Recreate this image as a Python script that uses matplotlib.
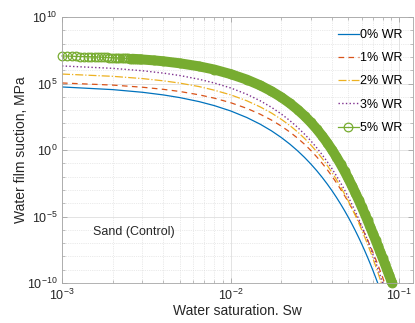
import numpy as np
import matplotlib
matplotlib.use('Agg')
import matplotlib.pyplot as plt
from matplotlib.ticker import LogLocator, FixedLocator, NullFormatter

plt.rcParams['font.family'] = ['Liberation Sans', 'DejaVu Sans']
plt.rcParams['mathtext.fontset'] = 'custom'
plt.rcParams['mathtext.rm'] = 'Liberation Sans'
plt.rcParams['mathtext.it'] = 'Liberation Sans:italic'

# water saturation grid (x 1e-3), shared by all curves
sw = [1, 2, 3, 4, 5, 6.5, 8, 10, 12.5, 15, 17.5, 20, 22.5, 25, 27.5, 30, 32.5, 35, 37.5, 40,
      42.5, 45, 47.5, 50, 52.5, 55, 57.5, 60, 62.5, 65, 67.5, 70, 72.5, 75, 77.5, 80, 82.5]

# log10 of water film suction (MPa) for each WR content
lp_0 = [4.74, 4.54, 4.34, 4.14, 3.94, 3.64, 3.34, 2.94, 2.44, 1.94, 1.44, 0.94, 0.44, -0.06,
        -0.56, -1.06, -1.56, -2.06, -2.56, -3.06, -3.56, -4.06, -4.56, -5.06, -5.56, -6.06,
        -6.56, -7.06, -7.56, -8.06, -8.56, -9.06, -9.56, -10.06]
lp_1 = [5.04, 4.88, 4.72, 4.56, 4.40, 4.15, 3.90, 3.56, 3.13, 2.69, 2.25, 1.80, 1.35, 0.89,
        0.43, -0.04, -0.52, -1.00, -1.48, -1.97, -2.46, -2.95, -3.43, -3.90, -4.38, -4.85,
        -5.33, -5.80, -6.28, -6.75, -7.23, -7.70, -8.18, -8.65, -9.13, -9.60, -10.08]
lp_2 = [5.71, 5.54, 5.37, 5.20, 5.03, 4.77, 4.50, 4.15, 3.70, 3.24, 2.78, 2.31, 1.84, 1.36,
        0.87, 0.37, -0.13, -0.64, -1.16, -1.69, -2.22, -2.76, -3.30, -3.84, -4.38, -4.92,
        -5.46, -6.00, -6.54, -7.08, -7.62, -8.16, -8.70, -9.24, -9.78, -10.32]
lp_3 = [6.32, 6.14, 5.96, 5.78, 5.60, 5.32, 5.04, 4.67, 4.19, 3.70, 3.21, 2.71, 2.21, 1.70,
        1.19, 0.68, 0.16, -0.36, -0.88, -1.41, -1.94, -2.47, -3.00, -3.54, -4.08, -4.62,
        -5.16, -5.70, -6.24, -6.78, -7.32, -7.86, -8.40, -8.94, -9.48, -10.02, -10.56]

# 5% WR has its own, finer sampling at low saturation (x 1e-3)
sw_5 = [1.00, 1.07, 1.14, 1.21, 1.28, 1.35, 1.42, 1.49, 1.56, 1.63, 1.70, 1.77, 1.84, 1.91,
        1.98, 2.05, 2.12, 2.19, 2.26, 2.33, 2.40, 2.47, 2.54, 2.61, 2.68, 2.75, 2.82, 2.89,
        2.96, 3.5, 4, 5, 6.5, 8, 10, 12.5, 15, 17.5, 20, 22.5, 25, 27.5, 30, 32.5, 35, 37.5,
        40, 42.5, 45, 47.5, 50, 52.5, 55, 57.5, 60, 62.5, 65, 67.5, 70, 72.5, 75, 77.5, 80,
        82.5, 85, 87.5, 90, 91]
lp_5 = [7.07, 7.06, 7.05, 7.04, 7.03, 7.02, 7.02, 7.01, 7.00, 6.99, 6.98, 6.97, 6.96, 6.95,
        6.94, 6.93, 6.92, 6.92, 6.91, 6.90, 6.89, 6.88, 6.87, 6.86, 6.85, 6.84, 6.83, 6.82,
        6.81, 6.74, 6.67, 6.52, 6.29, 6.05, 5.71, 5.29, 4.86, 4.42, 3.97, 3.51, 3.04, 2.56,
        2.07, 1.57, 1.06, 0.54, 0.01, -0.52, -1.06, -1.60, -2.14, -2.68, -3.21, -3.74, -4.26,
        -4.78, -5.29, -5.79, -6.28, -6.76, -7.23, -7.69, -8.14, -8.58, -9.01, -9.43, -9.84,
        -10.0]

labels = ['0% WR', '1% WR', '2% WR', '3% WR', '5% WR']


def xy(sat, logp):
    s = np.array(sat[:len(logp)]) * 1e-3
    return s, 10.0 ** np.array(logp)


fig = plt.figure(figsize=(4.15, 3.23), dpi=100)
ax = fig.add_axes([62/415, 1 - 283/323, 351/415, 266/323])

ax.plot(*xy(sw, lp_0), '-', color='#0072BD', lw=0.9, label=labels[0])
ax.plot(*xy(sw, lp_1), color='#D95319', lw=0.9, ls=(0, (4.5, 3.5)), label=labels[1])
ax.plot(*xy(sw, lp_2), color='#EDB120', lw=0.9, ls='-.', label=labels[2])
ax.plot(*xy(sw, lp_3), color='#7E2F8E', lw=1.0, ls=':', label=labels[3])

# 5% WR: circles overlap into a solid band once the points get dense
s5, p5 = xy(sw_5, lp_5)
band = s5 >= 2.6e-3
ax.plot(s5[band], p5[band], '-', color='#77AC30', lw=7.2, solid_capstyle='round', clip_on=False)
ax.plot(s5, p5, '-o', color='#77AC30', lw=0.9, ms=6.2, mfc='none', mew=0.9,
        clip_on=False, label=labels[4])

ax.set_xscale('log')
ax.set_yscale('log')
ax.set_xlim(1e-3, 0.121)
ax.set_ylim(1e-10, 1e10)

ax.yaxis.set_major_locator(FixedLocator([1e-10, 1e-5, 1e0, 1e5, 1e10]))
ax.yaxis.set_minor_locator(FixedLocator([10.0 ** k for k in range(-10, 11)]))
ax.yaxis.set_minor_formatter(NullFormatter())
ax.xaxis.set_minor_locator(LogLocator(base=10, subs=np.arange(2, 10), numticks=20))
ax.xaxis.set_minor_formatter(NullFormatter())

ax.grid(True, which='major', color='#dedede', lw=0.6)
ax.grid(True, which='minor', color='#d6d6d6', lw=0.5, ls=':')
ax.set_axisbelow(True)

for s in ax.spines.values():
    s.set_color('#a6a6a6')
    s.set_linewidth(0.6)
ax.tick_params(which='both', direction='in', top=True, right=True, colors='#a6a6a6',
               labelcolor='#262626', labelsize=9)
ax.tick_params(which='major', length=3.5, width=0.6)
ax.tick_params(which='minor', length=2, width=0.5)

ax.set_xlabel('Water saturation. Sw', fontsize=10, color='#262626')
ax.set_ylabel('Water film suction, MPa', fontsize=10, color='#262626')
ax.xaxis.set_label_coords(0.5, -0.08)
ax.yaxis.set_label_coords(-0.097, 0.5)

ax.text(1.52e-3, 10 ** -6.17, 'Sand (Control)', fontsize=9, color='#262626',
        va='center', ha='left')

ax.legend(loc='upper left', bbox_to_anchor=(0.786, 0.955), frameon=False, fontsize=9,
          handlelength=1.65, handletextpad=0.1, labelspacing=0.9, borderpad=0,
          borderaxespad=0, numpoints=1)

fig.savefig('out.png', dpi=100)
